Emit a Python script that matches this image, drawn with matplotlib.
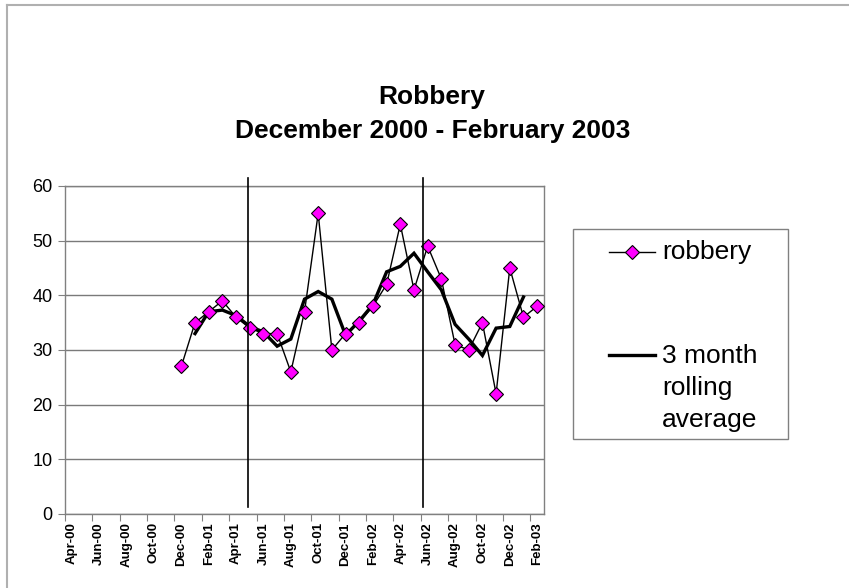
import matplotlib
matplotlib.use("Agg")
import matplotlib.pyplot as plt
from matplotlib.lines import Line2D
from matplotlib.patches import Rectangle

plt.rcParams['font.family'] = ['Liberation Sans', 'DejaVu Sans']

# ---- data ----
months = ["Apr-00", "May-00", "Jun-00", "Jul-00", "Aug-00", "Sep-00", "Oct-00", "Nov-00",
          "Dec-00", "Jan-01", "Feb-01", "Mar-01", "Apr-01", "May-01", "Jun-01", "Jul-01",
          "Aug-01", "Sep-01", "Oct-01", "Nov-01", "Dec-01", "Jan-02", "Feb-02", "Mar-02",
          "Apr-02", "May-02", "Jun-02", "Jul-02", "Aug-02", "Sep-02", "Oct-02", "Nov-02",
          "Dec-02", "Jan-03", "Feb-03"]
robbery = [None] * 8 + [27, 35, 37, 39, 36, 34, 33, 33, 26, 37, 55, 30, 33, 35, 38, 42,
                        53, 41, 49, 43, 31, 30, 35, 22, 45, 36, 38]
rolling_avg = [None] * 9 + [33.0, 37.0, 37.3, 36.3, 34.3, 33.3, 30.7, 32.0, 39.3, 40.7,
                            39.3, 32.7, 35.3, 38.3, 44.3, 45.3, 47.7, 44.3, 41.0, 34.7,
                            32.0, 29.0, 34.0, 34.3, 39.7, None]
event_lines = [12.87, 25.64]
yticks = [0, 10, 20, 30, 40, 50, 60]

W, H = 849, 588
fig = plt.figure(figsize=(W / 100, H / 100), dpi=100)

L, R, T, B = 65, 544, 186, 514
ax = fig.add_axes([L / W, 1 - B / H, (R - L) / W, (B - T) / H])

x = list(range(len(months)))
rx = [i for i, v in zip(x, robbery) if v is not None]
ry = [v for v in robbery if v is not None]
ax_x = [i for i, v in zip(x, rolling_avg) if v is not None]
ax_y = [v for v in rolling_avg if v is not None]

ax.plot(rx, ry, color='black', lw=1.0, marker='D', markersize=7.5,
        markerfacecolor='#FF00FF', markeredgecolor='black', markeredgewidth=0.8, zorder=4)
ax.plot(ax_x, ax_y, color='black', lw=2.4, zorder=3, solid_joinstyle='miter')

for xv in event_lines:
    ax.plot([xv, xv], [1.3, 61.5], color='black', lw=1.2, clip_on=False, zorder=5)

ax.set_xlim(-0.5, len(months) - 0.5)
ax.set_ylim(0, 60)
ax.set_yticks(yticks)
ax.set_yticklabels([str(v) for v in yticks], fontsize=13)
ax.yaxis.grid(True, color='#7a7a7a', lw=1.0)
ax.set_axisbelow(True)

# x axis: tick marks at every second boundary, labels at category centres
ax.set_xticks([i - 0.5 for i in range(0, len(months), 2)])
ax.set_xticklabels([])
ax.set_xticks(list(range(0, len(months), 2)), minor=True)
ax.set_xticklabels(months[::2], minor=True, rotation=90, fontsize=9.5, fontweight='bold')
ax.tick_params(axis='x', which='minor', length=0, pad=6)
ax.tick_params(axis='x', which='major', length=5, color='#808080', direction='out')
ax.tick_params(axis='y', length=5, color='#808080', direction='out', pad=4)

for s in ['left', 'bottom', 'right', 'top']:
    ax.spines[s].set_color('#808080')
    ax.spines[s].set_linewidth(1.0)

# title
fig.text(432 / W, 1 - 97 / H, "Robbery", ha='center', va='center',
         fontsize=19, fontweight='bold')
fig.text(433 / W, 1 - 131 / H, "December 2000 - February 2003", ha='center', va='center',
         fontsize=19, fontweight='bold')

# legend box
lx0, lx1, ly0, ly1 = 573, 788, 229, 439
fig.patches.append(Rectangle((lx0 / W, 1 - ly1 / H), (lx1 - lx0) / W, (ly1 - ly0) / H,
                             transform=fig.transFigure, facecolor='white',
                             edgecolor='#808080', lw=1.0))
fig.lines.append(Line2D([609 / W, 655 / W], [1 - 252 / H, 1 - 252 / H], transform=fig.transFigure,
                        color='black', lw=1.0))
fig.lines.append(Line2D([632 / W], [1 - 252 / H], transform=fig.transFigure, marker='D',
                        markersize=7.5, markerfacecolor='#FF00FF', markeredgecolor='black',
                        markeredgewidth=0.8, lw=0))
fig.lines.append(Line2D([609 / W, 655 / W], [1 - 355 / H, 1 - 355 / H], transform=fig.transFigure,
                        color='black', lw=2.4))
fig.text(662 / W, 1 - 252 / H, "robbery", ha='left', va='center', fontsize=19)
fig.text(662 / W, 1 - 344 / H, "3 month\nrolling\naverage", ha='left', va='top',
         fontsize=19, linespacing=1.42)

# figure border (top and left)
fig.lines.append(Line2D([7 / W, 1], [1 - 5 / H, 1 - 5 / H], transform=fig.transFigure,
                        color='#b0b0b0', lw=1.5))
fig.lines.append(Line2D([7 / W, 7 / W], [0, 1 - 5 / H], transform=fig.transFigure,
                        color='#b0b0b0', lw=1.5))

fig.savefig("out.png", dpi=100)
